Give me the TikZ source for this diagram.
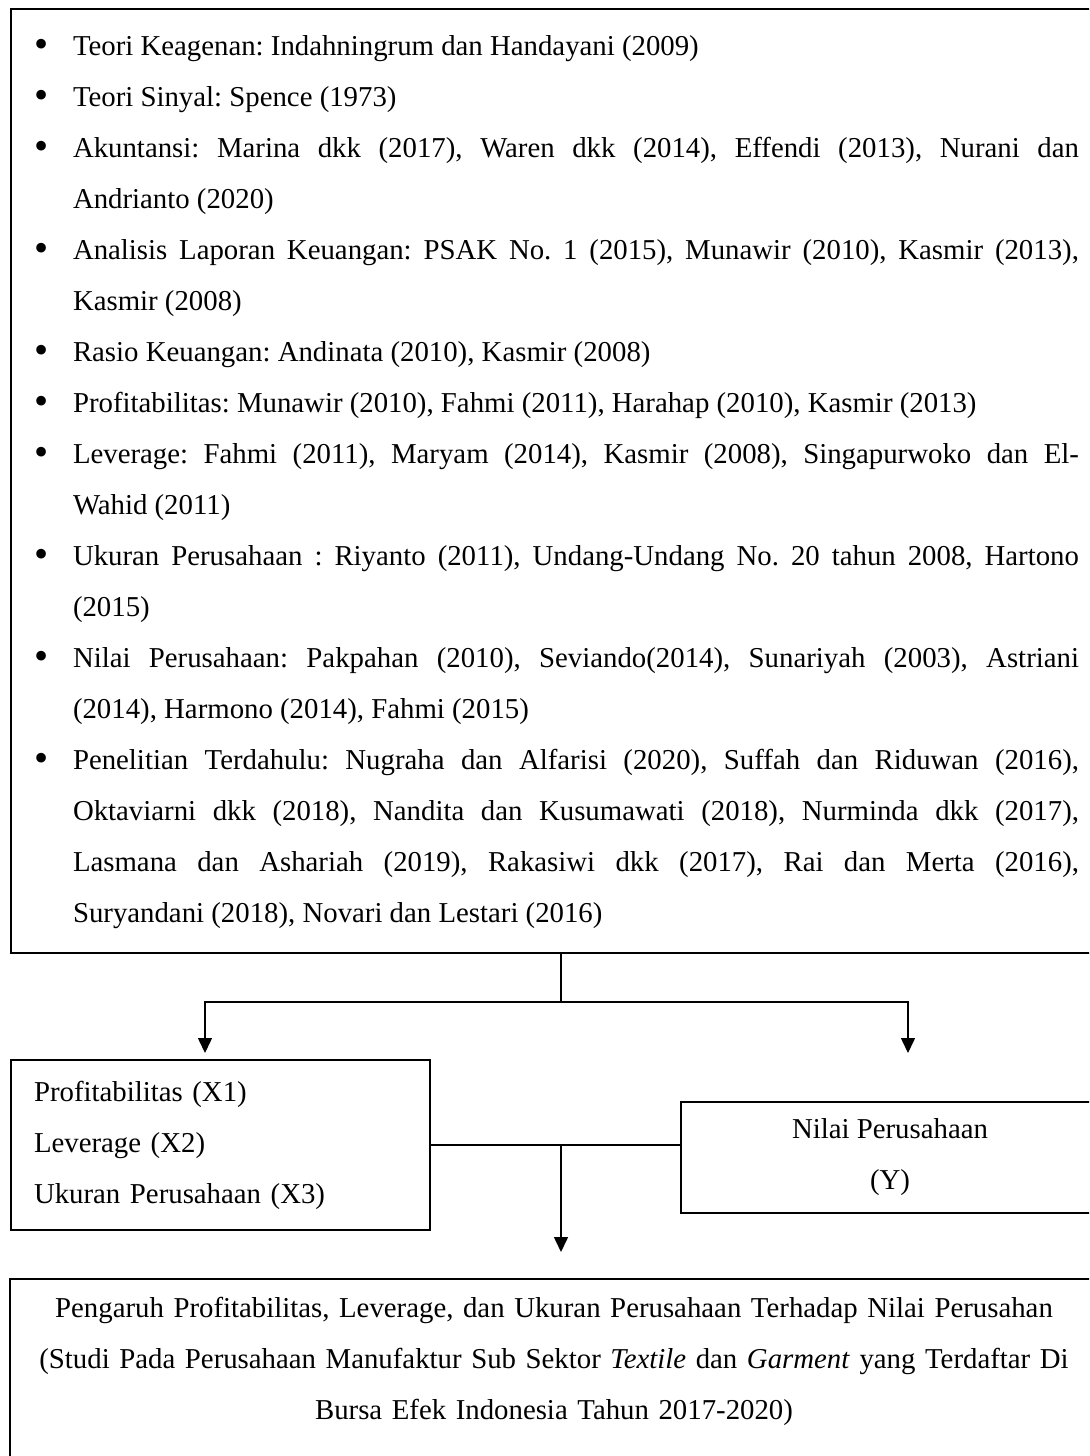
\documentclass[tikz,border=0pt]{standalone}
\usepackage{fontspec}
\setmainfont{Liberation Serif}
\usepackage{tikz}
\usetikzlibrary{arrows.meta,positioning,calc}
\usepackage{xcolor}
\definecolor{DiagBlack}{HTML}{000000}
\definecolor{DiagWhite}{HTML}{ffffff}
\frenchspacing
\newcommand{\diagfont}{\fontsize{14.4pt}{25.5pt}\selectfont}
\newcommand{\teoribullet}{\raisebox{-0.1em}{\scalebox{1.4}{\textbullet}}}
% Bullet list used in the theory box
\newenvironment{teorilist}{%
    \begin{minipage}[t]{522.5pt}%
    \begin{list}{\teoribullet}{%
        \setlength\leftmargin{19.5pt}%
        \setlength\labelwidth{7.5pt}%
        \setlength\labelsep{12pt}%
        \setlength\itemsep{0pt}%
        \setlength\parsep{0pt}%
        \setlength\topsep{0pt}%
        \setlength\partopsep{0pt}}%
    \tolerance=9999\emergencystretch=10pt\hyphenpenalty=10000}
    {\end{list}\end{minipage}}
\tikzset{
    % Base box style
    basebox/.style={
        draw=DiagBlack,
        fill=DiagWhite,
        line width=1pt,
        font=\diagfont
    },
    % Theory box style
    teoribox/.style={
        basebox,
        anchor=north west,
        inner xsep=11.5pt,
        inner ysep=0pt,
        text height=23pt,
        text depth=449pt
    },
    % Variable box style
    varbox/.style={
        basebox,
        anchor=north west,
        text width=186.5pt,
        inner xsep=11.5pt,
        minimum height=85pt,
        align=left
    },
    % Dependent variable box style
    depbox/.style={
        basebox,
        anchor=north west,
        minimum width=209pt,
        minimum height=55.5pt,
        align=center
    },
    % Title box style
    titlebox/.style={
        basebox,
        anchor=north,
        text width=520pt,
        inner xsep=12pt,
        inner ysep=9pt,
        align=center
    },
    % Plain connector
    connline/.style={
        line width=0.75pt,
        draw=DiagBlack
    },
    % Arrow connector
    myarrow/.style={
        -{Triangle[length=7.5pt,width=7pt]},
        line width=0.75pt,
        draw=DiagBlack
    }
}
\begin{document}
\begin{tikzpicture}[x=0.5pt,y=-0.5pt]
    \useasboundingbox (0,0) rectangle (1089,1456);
    \clip (0,0) rectangle (1089,1456);

    \node[teoribox] (teori) at (10,8) {%
        \begin{teorilist}
            \item Teori Keagenan: Indahningrum dan Handayani (2009)
            \item Teori Sinyal: Spence (1973)
            \item Akuntansi: Marina dkk (2017), Waren dkk (2014), Effendi (2013), Nurani dan\linebreak Andrianto (2020)
            \item Analisis Laporan Keuangan: PSAK No. 1 (2015), Munawir (2010), Kasmir (2013),\linebreak Kasmir (2008)
            \item Rasio Keuangan: Andinata (2010), Kasmir (2008)
            \item Profitabilitas: Munawir (2010), Fahmi (2011), Harahap (2010), Kasmir (2013)
            \item Leverage: Fahmi (2011), Maryam (2014), Kasmir (2008), Singapurwoko dan El-\linebreak Wahid (2011)
            \item Ukuran Perusahaan : Riyanto (2011), Undang-Undang No. 20 tahun 2008, Hartono\linebreak (2015)
            \item Nilai Perusahaan: Pakpahan (2010), Seviando(2014), Sunariyah (2003), Astriani\linebreak (2014), Harmono (2014), Fahmi (2015)
            \item Penelitian Terdahulu: Nugraha dan Alfarisi (2020), Suffah dan Riduwan (2016),\linebreak Oktaviarni dkk (2018), Nandita dan Kusumawati (2018), Nurminda dkk (2017),\linebreak Lasmana dan Ashariah (2019), Rakasiwi dkk (2017), Rai dan Merta (2016),\linebreak Suryandani (2018), Novari dan Lestari (2016)
        \end{teorilist}};

    \node[varbox] (var) at (10,1059) {Profitabilitas (X1)\\ Leverage (X2)\\ Ukuran Perusahaan (X3)};
    \node[depbox] (nilai) at (680,1101) {Nilai Perusahaan\\ (Y)};
    \node[titlebox] (judul) at (554,1278) {Pengaruh Profitabilitas, Leverage, dan Ukuran Perusahaan Terhadap Nilai Perusahan\\
        (Studi Pada Perusahaan Manufaktur Sub Sektor \textit{Textile} dan \textit{Garment} yang Terdaftar Di\\
        Bursa Efek Indonesia Tahun 2017-2020)\\ \mbox{}};

    \coordinate (split) at (561,1002);
    \coordinate (tipL) at (205,1053);
    \coordinate (tipR) at (908,1053);
    \coordinate (tipB) at (561,1252);

    \draw[connline] (teori.south -| split) -- (split);
    \draw[myarrow] (split) -| (tipL);
    \draw[myarrow] (split) -| (tipR);
    \draw[connline] (var.east) -- (nilai.west |- var.east);
    \draw[myarrow] (var.east -| split) -- (tipB);
\end{tikzpicture}
\end{document}
